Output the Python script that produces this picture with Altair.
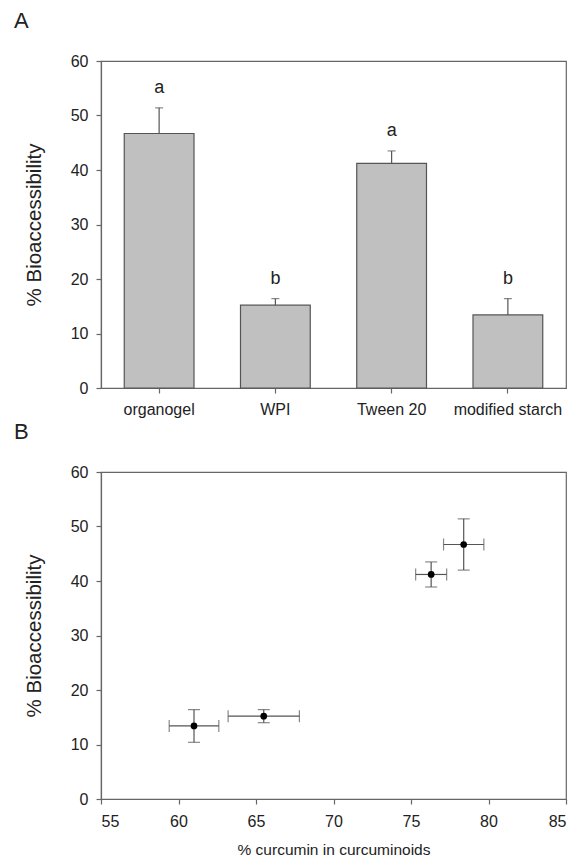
import altair as alt
import pandas as pd

FONT = "Liberation Sans"

categories = ["organogel", "WPI", "Tween 20", "modified starch"]
bioacc = [46.7, 15.2, 41.2, 13.4]
bioacc_err = [4.7, 1.2, 2.3, 3.0]
letters = ["a", "b", "a", "b"]

curcumin_pct = [78.4, 65.5, 76.3, 61.0]
curcumin_err = [1.3, 2.3, 1.0, 1.6]

df = pd.DataFrame({
    "category": categories,
    "bio": bioacc,
    "err": bioacc_err,
    "letter": letters,
    "curc": curcumin_pct,
    "cerr": curcumin_err,
})
df["hi"] = df["bio"] + df["err"]
df["lo"] = df["bio"] - df["err"]
df["clo"] = df["curc"] - df["cerr"]
df["chi"] = df["curc"] + df["cerr"]

W, H = 465, 327
GRAY = "#555555"

yscale = alt.Scale(domain=[0, 60], nice=False)
yaxis = alt.Axis(values=[0, 10, 20, 30, 40, 50, 60], title="% Bioaccessibility",
                 titlePadding=26, titleFontSize=20.5, labelPadding=8)

# ---------- Panel A ----------
xa = alt.X("category:N", sort=categories,
           scale=alt.Scale(paddingInner=0.4, paddingOuter=0.2),
           axis=alt.Axis(title=None, labelAngle=0, labelPadding=8))
base_a = alt.Chart(df).encode(x=xa)
bars = base_a.mark_bar(color="#c0c0c0", stroke=GRAY, strokeWidth=1.2).encode(
    y=alt.Y("bio:Q", scale=yscale, axis=yaxis))
err_a = base_a.mark_rule(color=GRAY, strokeWidth=1.2).encode(y="bio:Q", y2="hi:Q")
cap_a = base_a.mark_tick(color=GRAY, size=8, thickness=1.2, orient="horizontal").encode(y="hi:Q")
lab_a = base_a.mark_text(dy=-15, baseline="alphabetic", fontSize=18, font=FONT,
                         color="#222222").encode(y="hi:Q", text="letter:N")
tag_a = alt.Chart(alt.Data(values=[{"t": "A"}])).mark_text(
    align="left", baseline="top", fontSize=22, font=FONT, color="#222222"
).encode(x=alt.value(-87), y=alt.value(-50), text="t:N")

panel_a = alt.layer(bars, err_a, cap_a, lab_a, tag_a).properties(width=W, height=H)

# ---------- Panel B ----------
xb_scale = alt.Scale(domain=[55, 85], nice=False)
xb_axis = alt.Axis(values=[55, 60, 65, 70, 75, 80, 85], title="% curcumin in curcuminoids",
                   titlePadding=13, titleFontSize=15.5, labelPadding=9)
base_b = alt.Chart(df)
xerr = base_b.mark_rule(color=GRAY, strokeWidth=1.2).encode(
    x=alt.X("clo:Q", scale=xb_scale, axis=xb_axis), x2="chi:Q",
    y=alt.Y("bio:Q", scale=yscale, axis=yaxis))
xcap_lo = base_b.mark_tick(color=GRAY, size=12, thickness=1.2, orient="vertical").encode(
    x="clo:Q", y="bio:Q")
xcap_hi = base_b.mark_tick(color=GRAY, size=12, thickness=1.2, orient="vertical").encode(
    x="chi:Q", y="bio:Q")
yerr = base_b.mark_rule(color=GRAY, strokeWidth=1.2).encode(x="curc:Q", y="lo:Q", y2="hi:Q")
ycap_lo = base_b.mark_tick(color=GRAY, size=12, thickness=1.2, orient="horizontal").encode(
    x="curc:Q", y="lo:Q")
ycap_hi = base_b.mark_tick(color=GRAY, size=12, thickness=1.2, orient="horizontal").encode(
    x="curc:Q", y="hi:Q")
pts = base_b.mark_point(filled=True, color="black", size=45, opacity=1).encode(
    x="curc:Q", y="bio:Q")
tag_b = alt.Chart(alt.Data(values=[{"t": "B"}])).mark_text(
    align="left", baseline="top", fontSize=22, font=FONT, color="#222222"
).encode(x=alt.value(-87), y=alt.value(-50), text="t:N")

panel_b = alt.layer(xerr, xcap_lo, xcap_hi, yerr, ycap_lo, ycap_hi, pts, tag_b).properties(
    width=W, height=H)

chart = alt.vconcat(panel_a, panel_b, spacing=2).properties(
    padding={"left": 13, "top": 9, "right": 5, "bottom": 0}
).configure_view(stroke="#666666", strokeWidth=1.2).configure_axis(
    grid=False, domainColor="#666666", tickColor="#666666", tickSize=5,
    domainWidth=1.2, tickWidth=1.2,
    labelFont=FONT, labelFontSize=16, labelColor="#222222",
    titleFont=FONT, titleFontWeight="normal", titleColor="#222222"
)

chart.save("out.html", embed_options={"renderer": "svg", "actions": False})
